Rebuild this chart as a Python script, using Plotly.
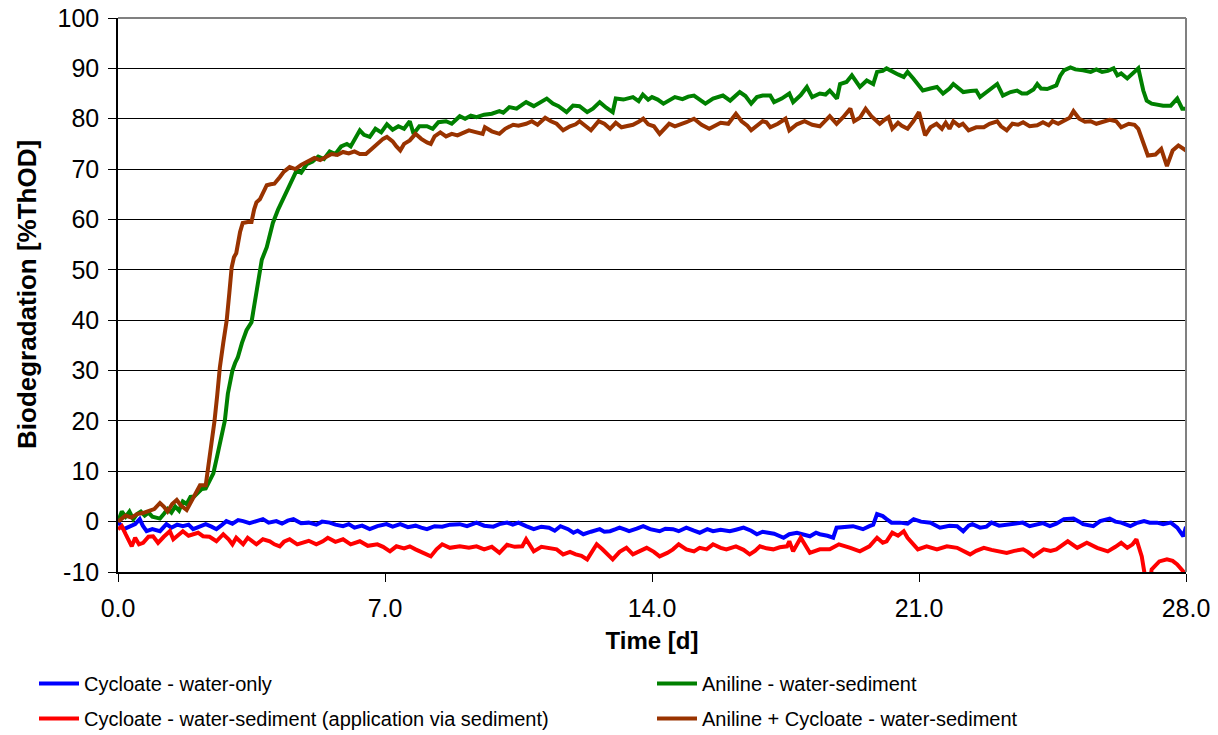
import plotly.graph_objects as go

# ---------------- data ----------------
blue_t = [0.0,0.05,0.15,0.3,0.45,0.57,0.65,0.75,0.9,1.1,1.27,1.4,1.55,1.7,1.85,1.97,2.15,2.3,2.45,2.58,2.7,2.84,3.0,3.15,3.28,3.45,3.63,3.8,3.95,4.15,4.3,4.45,4.6,4.8,5.0,5.2,5.35,5.55,5.7,5.9,6.05,6.2,6.4,6.6,6.8,7.04,7.2,7.4,7.6,7.8,7.95,8.1,8.3,8.5,8.7,8.96,9.15,9.4,9.6,9.84,10.0,10.2,10.35,10.5,10.7,10.9,11.1,11.3,11.45,11.6,11.8,11.94,12.05,12.2,12.4,12.63,12.75,12.9,13.05,13.15,13.3,13.4,13.6,13.77,13.95,14.2,14.35,14.55,14.7,14.9,15.1,15.25,15.45,15.6,15.8,16.04,16.2,16.4,16.6,16.75,16.9,17.0,17.2,17.45,17.6,17.8,18.0,18.14,18.3,18.4,18.6,18.75,18.84,19.05,19.27,19.4,19.53,19.7,19.8,19.9,20.05,20.15,20.28,20.5,20.7,20.86,21.05,21.3,21.55,21.8,22.0,22.16,22.3,22.4,22.6,22.77,22.9,23.1,23.3,23.5,23.72,23.9,24.1,24.25,24.43,24.6,24.8,25.05,25.2,25.3,25.57,25.75,26.0,26.15,26.3,26.54,26.7,26.9,27.05,27.24,27.4,27.6,27.77,27.93,28.0]
blue_v = [0.0,-0.5,-1.5,-1.0,-0.5,0.5,-0.8,-1.9,-1.5,-1.9,-0.5,-1.2,-0.6,-0.9,-0.6,-1.5,-1.0,-0.5,-1.0,-1.5,-0.8,0.1,-0.4,0.3,0.1,-0.3,0.1,0.5,-0.2,0.1,-0.4,0.2,0.5,-0.3,-0.2,-0.6,0.0,-0.2,-0.6,-0.9,-0.5,-1.2,-0.8,-1.5,-0.9,-0.5,-1.0,-0.5,-1.1,-0.8,-1.2,-1.5,-0.9,-1.0,-0.6,-0.5,-0.9,-0.2,-0.8,-1.0,-0.5,-0.2,-0.6,-0.2,-0.9,-1.5,-1.0,-1.2,-1.8,-0.9,-1.5,-2.2,-1.8,-2.5,-2.0,-1.5,-2.0,-1.9,-1.5,-1.2,-1.6,-1.9,-1.4,-0.9,-1.5,-1.9,-1.4,-1.5,-1.9,-1.2,-1.8,-2.2,-1.5,-1.9,-1.6,-1.9,-1.6,-1.2,-1.8,-2.5,-2.0,-2.2,-2.4,-3.2,-2.5,-2.2,-2.6,-2.9,-2.2,-2.5,-2.8,-3.2,-1.2,-1.0,-0.9,-1.2,-1.5,-0.9,-0.6,1.5,1.1,0.5,-0.2,-0.2,-0.4,0.5,0.0,-0.2,-1.2,-0.8,-0.9,-1.9,-0.8,-0.5,-1.2,-1.0,-0.2,-0.8,-0.6,-0.4,-0.2,-0.9,-0.5,-0.3,-0.9,-0.4,0.5,0.6,0.0,-0.5,-0.9,0.1,0.6,0.0,-0.2,-0.9,-0.3,0.1,-0.2,-0.2,-0.5,-0.2,-1.2,-2.9,-1.0]

green_t = [0.0,0.1,0.2,0.3,0.4,0.5,0.6,0.7,0.8,0.9,1.0,1.1,1.2,1.3,1.4,1.5,1.6,1.7,1.8,1.9,2.0,2.1,2.2,2.3,2.4,2.5,2.6,2.67,2.75,2.8,2.88,2.95,3.0,3.07,3.14,3.25,3.37,3.5,3.6,3.7,3.77,3.9,4.0,4.06,4.2,4.32,4.45,4.6,4.68,4.8,4.95,5.1,5.25,5.4,5.55,5.7,5.85,6.0,6.1,6.2,6.34,6.45,6.6,6.75,6.9,7.05,7.2,7.35,7.5,7.65,7.75,7.9,8.1,8.25,8.4,8.6,8.75,8.96,9.1,9.25,9.4,9.6,9.8,10.0,10.1,10.26,10.45,10.6,10.7,10.9,11.05,11.24,11.4,11.55,11.76,11.93,12.1,12.3,12.45,12.63,12.8,12.97,13.05,13.25,13.5,13.65,13.76,13.9,14.0,14.15,14.3,14.45,14.6,14.8,14.95,15.1,15.25,15.4,15.6,15.75,15.86,16.05,16.2,16.3,16.45,16.6,16.75,16.9,17.1,17.2,17.4,17.6,17.7,17.9,18.06,18.2,18.4,18.55,18.66,18.85,18.93,19.1,19.24,19.35,19.45,19.63,19.8,19.9,20.05,20.15,20.3,20.45,20.6,20.7,20.85,20.97,21.1,21.3,21.47,21.63,21.8,21.9,22.05,22.16,22.35,22.5,22.6,22.8,23.05,23.2,23.4,23.57,23.7,23.83,24.0,24.1,24.2,24.36,24.5,24.6,24.7,24.8,24.97,25.1,25.3,25.5,25.65,25.8,25.95,26.1,26.2,26.3,26.46,26.6,26.75,26.88,26.97,27.1,27.25,27.4,27.6,27.77,27.9,28.0]
green_v = [0.0,2.0,1.0,2.0,0.5,1.5,2.0,1.2,1.8,1.0,0.8,0.6,1.5,2.5,1.8,3.0,2.2,4.0,3.5,4.9,5.0,5.8,6.5,6.6,8.0,9.6,13.0,15.5,18.5,20.0,25.4,28.0,30.0,31.5,32.6,35.5,38.0,39.6,44.0,48.0,52.0,54.5,57.5,59.3,62.0,63.8,66.0,68.4,69.7,69.3,71.0,71.5,72.5,72.0,73.5,73.0,74.5,75.0,74.5,76.0,77.7,76.8,76.4,78.0,77.3,78.9,77.8,78.5,78.0,79.5,77.0,78.5,78.5,78.0,79.3,79.5,79.0,80.5,80.0,80.6,80.3,80.8,81.0,81.5,81.2,82.3,82.0,82.8,83.3,82.5,83.2,84.0,83.0,82.5,81.3,82.6,82.5,81.3,82.0,83.3,82.2,81.3,84.0,83.8,84.3,83.5,84.8,83.8,84.3,83.8,83.0,83.6,84.3,83.9,84.4,84.6,83.8,83.0,84.0,84.3,84.6,83.6,84.6,85.3,84.5,83.0,84.3,84.6,84.6,83.3,84.0,85.0,83.3,84.7,86.3,84.3,85.0,84.8,85.6,84.0,86.9,87.3,88.6,87.5,86.3,87.6,86.9,89.3,89.5,90.0,89.3,88.8,88.3,89.3,88.0,86.9,85.6,86.0,86.3,85.0,86.0,86.9,86.0,85.3,85.5,85.6,84.3,85.5,86.9,84.6,85.3,85.6,85.0,85.0,85.8,86.9,86.0,85.9,86.3,86.6,88.5,89.6,90.2,89.8,89.6,89.3,89.8,89.3,89.5,90.0,88.6,89.0,88.0,89.0,90.0,85.6,83.6,83.0,82.8,82.6,82.6,84.0,82.0,82.0]

red_t = [0.0,0.1,0.2,0.3,0.36,0.45,0.55,0.66,0.8,0.92,1.05,1.2,1.36,1.45,1.6,1.7,1.85,1.97,2.1,2.23,2.4,2.58,2.76,2.9,3.0,3.1,3.28,3.4,3.5,3.63,3.8,3.98,4.1,4.24,4.35,4.5,4.7,4.85,5.0,5.2,5.37,5.5,5.7,5.9,6.1,6.34,6.55,6.8,6.95,7.13,7.3,7.5,7.65,7.8,8.0,8.2,8.35,8.5,8.7,8.96,9.2,9.4,9.6,9.8,10.0,10.2,10.4,10.6,10.7,10.9,11.1,11.3,11.5,11.67,11.85,12.0,12.15,12.3,12.55,12.7,12.8,12.97,13.15,13.33,13.5,13.7,13.86,14.05,14.2,14.4,14.55,14.7,14.9,15.1,15.25,15.43,15.6,15.8,15.95,16.2,16.4,16.56,16.7,16.83,17.0,17.18,17.35,17.54,17.6,17.7,17.9,18.14,18.3,18.4,18.66,18.9,19.2,19.45,19.7,19.9,20.05,20.15,20.3,20.45,20.6,20.7,20.97,21.2,21.47,21.73,22.0,22.2,22.34,22.5,22.7,22.9,23.05,23.3,23.5,23.73,23.85,24.0,24.27,24.45,24.6,24.9,25.15,25.4,25.67,25.95,26.15,26.3,26.46,26.6,26.7,26.84,26.95,27.05,27.1,27.3,27.5,27.65,27.77,27.93,28.0]
red_v = [-1.5,-0.9,-2.5,-4.0,-4.9,-3.2,-4.5,-4.2,-3.0,-2.9,-4.2,-3.0,-1.9,-3.5,-2.5,-1.9,-2.8,-2.5,-2.2,-2.9,-3.0,-3.9,-2.5,-3.5,-4.5,-3.2,-4.5,-3.2,-3.8,-4.5,-3.5,-3.9,-4.5,-4.9,-4.0,-3.5,-4.5,-4.2,-3.8,-4.5,-3.9,-3.2,-4.0,-3.5,-4.5,-3.9,-4.8,-4.5,-5.0,-5.9,-4.9,-5.3,-4.9,-5.5,-6.2,-6.9,-5.5,-4.5,-5.2,-4.9,-5.2,-4.9,-5.5,-5.0,-6.2,-4.6,-5.0,-4.9,-3.5,-5.9,-5.0,-5.2,-5.5,-6.5,-6.0,-6.5,-6.8,-7.5,-4.5,-5.5,-6.2,-7.5,-6.0,-5.2,-6.5,-5.8,-5.2,-6.0,-6.9,-6.2,-5.5,-4.5,-5.5,-5.9,-5.2,-5.5,-4.5,-5.2,-5.5,-4.9,-5.6,-6.5,-5.8,-4.9,-5.3,-5.5,-5.1,-4.9,-3.9,-5.9,-3.2,-6.2,-5.8,-5.5,-5.5,-4.5,-5.2,-5.9,-4.9,-3.2,-4.2,-3.9,-2.2,-2.8,-1.9,-3.2,-5.5,-4.9,-5.5,-4.9,-5.2,-6.0,-6.5,-5.8,-5.2,-5.6,-5.9,-6.2,-5.8,-5.5,-6.0,-6.9,-5.5,-5.8,-5.5,-3.9,-5.2,-4.2,-5.2,-5.9,-5.0,-4.2,-5.2,-4.5,-3.5,-6.9,-12.0,-12.0,-9.5,-7.9,-7.5,-7.8,-8.5,-9.9,-10.5]

brown_t = [0.0,0.1,0.2,0.35,0.5,0.65,0.8,0.95,1.1,1.2,1.3,1.42,1.54,1.65,1.8,1.95,2.05,2.15,2.3,2.4,2.53,2.6,2.67,2.76,2.85,2.92,2.98,3.04,3.1,3.2,3.27,3.4,3.5,3.57,3.63,3.72,3.8,3.9,4.0,4.1,4.24,4.35,4.5,4.65,4.8,5.0,5.15,5.3,5.45,5.6,5.75,5.9,6.05,6.2,6.34,6.5,6.65,6.8,6.95,7.05,7.2,7.3,7.4,7.5,7.65,7.8,7.95,8.1,8.2,8.3,8.45,8.6,8.75,8.9,9.05,9.2,9.35,9.56,9.62,9.8,10.0,10.15,10.36,10.5,10.7,10.85,11.0,11.2,11.35,11.5,11.67,11.85,12.0,12.1,12.25,12.4,12.6,12.75,12.9,13.05,13.2,13.35,13.5,13.65,13.77,13.9,14.05,14.2,14.35,14.45,14.6,14.75,14.9,15.1,15.3,15.5,15.65,15.8,16.0,16.2,16.35,16.5,16.6,16.75,16.9,17.0,17.1,17.3,17.5,17.6,17.8,18.0,18.2,18.4,18.55,18.66,18.84,19.0,19.2,19.3,19.45,19.6,19.75,19.97,20.1,20.2,20.3,20.45,20.55,20.7,20.85,21.0,21.16,21.3,21.46,21.6,21.7,21.8,21.9,22.05,22.15,22.3,22.5,22.7,22.85,23.05,23.15,23.3,23.45,23.6,23.73,23.9,24.1,24.25,24.4,24.5,24.65,24.8,24.95,25.05,25.2,25.35,25.5,25.65,25.8,26.0,26.17,26.3,26.5,26.65,26.75,26.9,27.0,27.2,27.35,27.5,27.65,27.8,27.9,28.0]
brown_v = [0.0,0.5,1.2,0.8,1.5,1.7,2.0,2.5,3.7,3.0,2.0,3.5,4.3,3.2,2.3,4.5,6.0,7.2,7.2,12.2,20.0,25.0,30.6,35.5,40.0,45.5,50.5,52.5,53.3,57.5,59.3,59.5,59.5,62.0,63.4,64.0,65.4,66.8,67.0,67.1,68.4,69.5,70.4,70.0,70.8,71.7,72.2,71.8,72.5,73.0,72.8,73.4,73.1,73.5,73.0,73.0,74.0,75.0,76.0,76.4,75.5,74.5,73.7,75.0,75.7,77.0,76.0,75.3,75.0,76.5,77.3,76.5,77.0,76.7,77.2,77.7,77.4,77.0,78.3,77.5,77.0,78.0,78.8,78.6,79.0,79.5,78.8,80.2,79.5,79.0,77.7,78.5,78.9,79.5,78.6,77.7,79.5,79.0,78.0,79.2,78.3,78.5,78.8,79.4,80.0,78.9,78.5,77.0,78.2,79.0,78.5,78.8,79.3,80.0,78.8,78.0,78.6,79.2,79.0,81.0,79.5,78.6,77.7,78.7,79.5,79.3,78.3,79.0,80.0,77.7,78.9,79.5,78.8,78.5,79.6,80.5,79.0,80.2,82.0,79.5,80.2,82.0,80.5,79.0,79.8,80.3,78.0,79.2,78.6,78.0,79.5,81.3,76.7,78.3,79.0,78.0,79.2,78.0,79.5,78.6,79.0,77.7,78.3,78.3,79.0,79.5,78.5,77.7,79.0,78.8,79.3,78.5,78.7,79.3,78.7,79.5,79.0,79.5,80.2,81.5,80.0,79.4,79.5,79.0,79.3,79.8,79.5,78.3,79.0,78.8,78.0,75.0,72.7,72.9,74.0,70.6,73.7,74.7,74.3,73.7]

series_names = [
    "Cycloate - water-only",
    "Aniline - water-sediment",
    "Cycloate - water-sediment (application via sediment)",
    "Aniline + Cycloate - water-sediment",
]
x_ticks = [0, 7, 14, 21, 28]
x_tick_labels = ["0.0", "7.0", "14.0", "21.0", "28.0"]
y_ticks = [-10, 0, 10, 20, 30, 40, 50, 60, 70, 80, 90, 100]
y_tick_labels = ["-10", "0", "10", "20", "30", "40", "50", "60", "70", "80", "90", "100"]
x_title = "Time [d]"
y_title = "Biodegradation [%ThOD]"

# ---------------- figure ----------------
FONT = "Liberation Sans, Arial, sans-serif"
fig = go.Figure()

specs = [
    (blue_t, blue_v, series_names[0], "#0000FF", "legend"),
    (green_t, green_v, series_names[1], "#008000", "legend2"),
    (red_t, red_v, series_names[2], "#FF0000", "legend"),
    (brown_t, brown_v, series_names[3], "#993300", "legend2"),
]
for i, (t, v, name, col, lg) in enumerate(specs):
    fig.add_trace(go.Scatter(
        x=t, y=v, name=name, mode="lines",
        line=dict(color=col, width=4),
        legend=lg, legendgroup="g%d" % i,
    ))

legend_common = dict(
    xref="container", yref="container", xanchor="left", yanchor="top",
    orientation="v", tracegroupgap=6, traceorder="grouped", itemwidth=40,
    font=dict(size=20, family=FONT), bgcolor="rgba(0,0,0,0)",
)

fig.update_layout(
    width=1218, height=735,
    margin=dict(l=118, r=32, t=18, b=163, autoexpand=False),
    paper_bgcolor="white", plot_bgcolor="white",
    font=dict(family=FONT, color="black"),
    showlegend=True,
    legend=dict(x=34 / 1218, y=(735 - 664) / 735, **legend_common),
    legend2=dict(x=652 / 1218, y=(735 - 664) / 735, **legend_common),
    xaxis=dict(
        range=[0, 28], tickvals=x_ticks, ticktext=x_tick_labels,
        automargin=False,
        showgrid=False, zeroline=False,
        showline=True, linecolor="black", linewidth=1.5,
        ticks="outside", ticklen=8, tickcolor="black", tickwidth=1,
        ticklabelstandoff=5,
        tickfont=dict(size=25, family=FONT),
        title=dict(text="<b>" + x_title + "</b>", font=dict(size=24, family=FONT), standoff=11),
    ),
    yaxis=dict(
        range=[-10, 100], tickvals=y_ticks, ticktext=y_tick_labels,
        automargin=False,
        showgrid=True, gridcolor="black", gridwidth=1,
        zeroline=False,
        showline=True, linecolor="black", linewidth=1.5,
        ticks="outside", ticklen=8, tickcolor="black", tickwidth=1,
        ticklabelstandoff=4,
        tickfont=dict(size=25, family=FONT),
    ),
    annotations=[
        dict(text="<b>" + y_title + "</b>", xref="paper", yref="paper",
             x=-0.0852, y=0.5, xanchor="center", yanchor="middle",
             textangle=-90, showarrow=False,
             font=dict(size=26, family=FONT, color="black")),
    ],
    shapes=[
        dict(type="line", xref="paper", yref="paper", x0=0, x1=1, y0=1, y1=1,
             line=dict(color="#808080", width=2), layer="above"),
        dict(type="line", xref="paper", yref="paper", x0=1, x1=1, y0=0, y1=1,
             line=dict(color="#808080", width=2), layer="above"),
    ],
)

fig.write_html("out.html")
